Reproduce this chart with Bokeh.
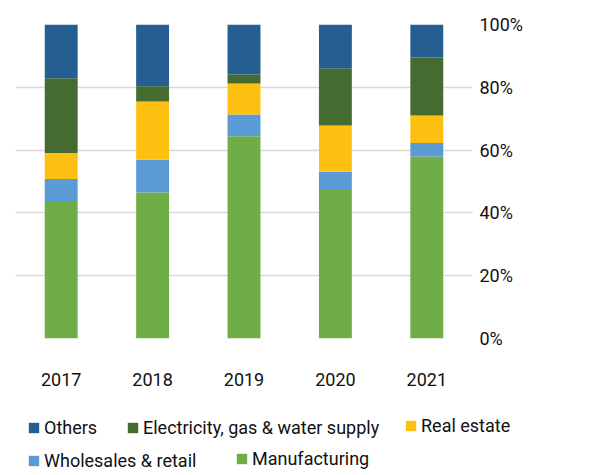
from bokeh.plotting import figure
from bokeh.layouts import column, row
from bokeh.models import ColumnDataSource, FactorRange, Range1d, FixedTicker, PrintfTickFormatter, Legend, LegendItem, LinearAxis
from bokeh.embed import file_html
from bokeh.resources import INLINE

years = ["2017", "2018", "2019", "2020", "2021"]
manufacturing = [43.8, 46.5, 64.4, 47.3, 58.0]
wholesale = [7.0, 10.4, 6.9, 5.8, 4.3]
real_estate = [8.3, 18.6, 9.9, 14.7, 8.7]
electricity = [23.8, 4.8, 2.9, 18.3, 18.5]
others = [17.1, 19.7, 15.9, 13.9, 10.5]

series = ["manufacturing", "wholesale", "real_estate", "electricity", "others"]
names = ["Manufacturing", "Wholesales & retail", "Real estate", "Electricity, gas & water supply", "Others"]
colors = ["#70AD47", "#5B9BD5", "#FDC010", "#466B31", "#255E91"]
y_ticks = [0, 20, 40, 60, 80, 100]

source = ColumnDataSource(dict(years=years, manufacturing=manufacturing, wholesale=wholesale,
                               real_estate=real_estate, electricity=electricity, others=others))

FONT = "Roboto"
TEXT = "#111111"

p = figure(x_range=FactorRange(*years, range_padding=0), y_range=Range1d(0, 100),
           width=609, height=389,
           min_border_left=15, min_border_top=24, min_border_right=137, min_border_bottom=51,
           output_backend="svg", toolbar_location=None, y_axis_location=None)
p.outline_line_color = None

p.vbar_stack(series, x="years", width=0.36, color=colors, source=source, line_color=None)

yaxis = LinearAxis(ticker=FixedTicker(ticks=y_ticks), formatter=PrintfTickFormatter(format="%d%%"))
yaxis.axis_line_color = None
yaxis.major_tick_line_color = None
yaxis.minor_tick_line_color = None
yaxis.major_label_standoff = 1
yaxis.major_label_text_font = FONT
yaxis.major_label_text_font_size = "18px"
yaxis.major_label_text_color = TEXT
p.add_layout(yaxis, "right")

p.xaxis.axis_line_color = None
p.xaxis.major_tick_line_color = None
p.xaxis.minor_tick_line_color = None
p.xaxis.major_label_standoff = 28
p.xaxis.major_label_text_font = FONT
p.xaxis.major_label_text_font_size = "18px"
p.xaxis.major_label_text_color = TEXT

p.xgrid.grid_line_color = None
p.ygrid.ticker = FixedTicker(ticks=y_ticks)
p.ygrid.grid_line_color = "#d9d9d9"
p.ygrid.grid_line_width = 1.5

# legend strip below the chart (same bars, scrolled out of view, used only as legend swatches)
lf = figure(width=609, height=86, x_range=FactorRange(*years), y_range=Range1d(1000, 1001),
            min_border=0, output_backend="svg", toolbar_location=None,
            x_axis_location=None, y_axis_location=None)
lf.grid.grid_line_color = None
lf.outline_line_color = None

proxies = dict(zip(series, lf.vbar_stack(series, x="years", width=0.36, color=colors,
                                         source=source, line_color=None)))
labels = dict(zip(series, names))

legend_pos = {"others": (27, 37), "electricity": (126, 37), "real_estate": (404, 39.5),
              "wholesale": (27, 4), "manufacturing": (235, 6)}

for key, loc in legend_pos.items():
    lg = Legend(items=[LegendItem(label=labels[key], renderers=[proxies[key]])], location=loc)
    lg.label_text_font = FONT
    lg.label_text_font_size = "18px"
    lg.label_text_color = TEXT
    lg.glyph_width = 13
    lg.glyph_height = 13
    lg.label_standoff = 4
    lg.padding = 0
    lg.margin = 0
    lg.border_line_color = None
    lg.background_fill_alpha = 0
    lg.label_height = 20
    lf.add_layout(lg, "center")

layout = column(p, row(lf), spacing=0)
open("out.html", "w").write(file_html(layout, INLINE))
